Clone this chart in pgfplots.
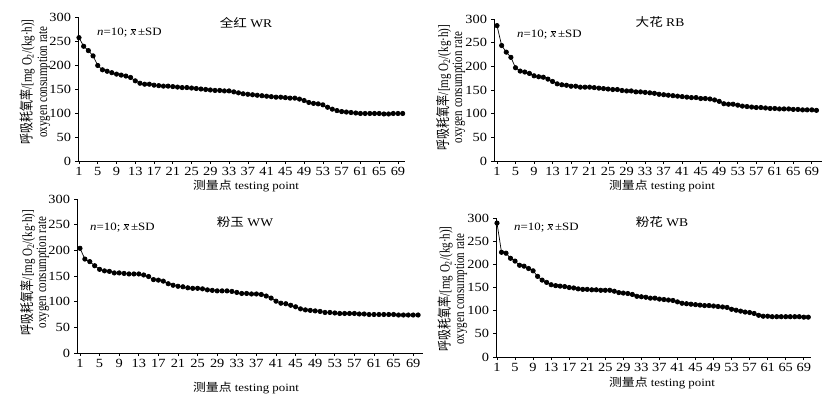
\documentclass[border=0pt]{standalone}
\usepackage{fontspec}
\usepackage{graphicx}
\usepackage{pgfplots}
\pgfplotsset{compat=1.18}
\setmainfont{Liberation Serif}[FakeStretch=1.15]
\newfontfamily\serifplain{Liberation Serif}
\newfontfamily\cjk{Noto Sans CJK SC}[FakeStretch=1.15]
\newfontfamily\cjkplain{Noto Sans CJK SC}
\pgfplotsset{
 panel/.style={
  scale only axis, axis x line=bottom, axis y line=left,
  axis line style={-, line width=0.8pt, black},
  ymin=0, ymax=300, ytick={0,50,...,300}, xtick={1,5,...,69},
  tick align=outside, major tick length=3pt, tick style={black, line width=0.7pt},
  ticklabel style={font=\fontsize{12.5}{13}\selectfont},
  yticklabel style={xshift=-0.5pt},
  /pgf/number format/assume math mode=true,
  anchor=south west, clip=false,
 },
 ser/.style={black, line width=0.7pt, mark=*, mark size=2.2pt, mark options={solid, fill=black}},
}
\newcommand{\nlab}{\fontsize{11.2}{12}\selectfont\textit{n}=10; $\overline{\mbox{\textit{x}}}$\,±SD}
\newcommand{\ylabA}{\scalebox{1}[1.3]{\fontsize{11}{12}\selectfont{\cjkplain 呼吸耗氧率}{\serifplain/[mg O\textsubscript{2}/(kg·h)]}}}
\newcommand{\ylabB}{\scalebox{1}[1.3]{\fontsize{11}{12}\selectfont\serifplain oxygen consumption rate}}
\newcommand{\xlab}{\fontsize{11.2}{12}\selectfont{\cjk 测量点} testing point}
\tikzset{ylabnode/.style={rotate=90, inner sep=0pt}}
\begin{document}
\begin{tikzpicture}
\path[use as bounding box] (0,0) rectangle (830pt,397pt);
% Panel 1 WR
\begin{axis}[panel, at={(78pt,236pt)}, width=327pt, height=144pt, xmin=0.79, xmax=70.5]
\addplot[ser] table[x expr=\coordindex+1, y=y, row sep=\\] {y\\
257\\239\\230\\219\\199\\190\\187\\184\\181\\179\\
177\\174\\167\\162\\160\\160\\158\\157\\156\\156\\
155\\154\\153\\153\\152\\151\\150\\149\\148\\147\\
147\\146\\146\\144\\142\\140\\139\\138\\137\\136\\
135\\134\\133\\133\\132\\131\\131\\129\\126\\122\\
120\\119\\117\\112\\108\\105\\103\\102\\101\\100\\
99\\99\\99\\99\\99\\98\\98\\99\\99\\99\\};
\end{axis}
% Panel 2 RB
\begin{axis}[panel, at={(494pt,236pt)}, width=328pt, height=142pt, xmin=0.35, xmax=71.2]
\addplot[ser] table[x expr=\coordindex+1, y=y, row sep=\\] {y\\
286\\244\\230\\219\\197\\190\\188\\185\\180\\178\\
177\\173\\168\\163\\161\\160\\158\\158\\156\\156\\
156\\155\\154\\153\\152\\151\\151\\149\\148\\148\\
146\\146\\145\\144\\143\\141\\140\\139\\138\\137\\
136\\135\\134\\134\\132\\132\\131\\129\\126\\121\\
120\\120\\118\\116\\115\\114\\113\\113\\112\\111\\
111\\110\\110\\110\\109\\109\\108\\108\\108\\107\\};
\end{axis}
% Panel 3 WW
\begin{axis}[panel, at={(77pt,44pt)}, width=346pt, height=154pt, xmin=0.39, xmax=71.0]
\addplot[ser] table[x expr=\coordindex+1, y=y, row sep=\\] {y\\
204\\183\\178\\170\\163\\160\\159\\156\\156\\155\\
154\\154\\154\\152\\149\\143\\142\\140\\135\\132\\
130\\129\\127\\126\\126\\125\\123\\122\\121\\121\\
121\\120\\118\\116\\116\\115\\115\\114\\111\\107\\
101\\97\\96\\93\\90\\86\\84\\83\\82\\81\\
79\\79\\78\\77\\77\\77\\77\\76\\76\\75\\
75\\75\\75\\75\\75\\74\\74\\74\\74\\74\\};
\end{axis}
% Panel 4 WB
\begin{axis}[panel, at={(496pt,40pt)}, width=315pt, height=139pt, xmin=0.78, xmax=70.6]
\addplot[ser] table[x expr=\coordindex+1, y=y, row sep=\\] {y\\
289\\226\\224\\213\\207\\198\\196\\191\\186\\174\\
166\\161\\156\\154\\153\\152\\150\\149\\147\\146\\
146\\145\\145\\144\\144\\144\\142\\139\\138\\137\\
135\\131\\130\\129\\127\\127\\125\\124\\123\\122\\
119\\116\\115\\114\\113\\112\\111\\111\\110\\109\\
108\\107\\103\\101\\99\\97\\96\\94\\90\\88\\
88\\87\\87\\87\\87\\87\\87\\87\\86\\86\\};
\end{axis}
% titles
\node[font=\fontsize{11.8}{12}\selectfont] at (246pt,374pt) {{\cjk 全红} WR};
\node[font=\fontsize{11.8}{12}\selectfont] at (660pt,375pt) {{\cjk 大花} RB};
\node[font=\fontsize{11.8}{12}\selectfont] at (245pt,175pt) {{\cjk 粉玉} WW};
\node[font=\fontsize{11.8}{12}\selectfont] at (662pt,175pt) {{\cjk 粉花} WB};
% n labels
\node[anchor=west, inner sep=0pt] at (97pt,364pt) {\nlab};
\node[anchor=west, inner sep=0pt] at (517pt,362pt) {\nlab};
\node[anchor=west, inner sep=0pt] at (90pt,169pt) {\nlab};
\node[anchor=west, inner sep=0pt] at (514pt,169pt) {\nlab};
% y labels
\node[ylabnode] at (27pt,315pt) {\ylabA};
\node[ylabnode] at (44pt,315pt) {\ylabB};
\node[ylabnode] at (443.5pt,309.5pt) {\ylabA};
\node[ylabnode] at (459pt,309.5pt) {\ylabB};
\node[ylabnode] at (27.5pt,124.5pt) {\ylabA};
\node[ylabnode] at (43pt,124.5pt) {\ylabB};
\node[ylabnode] at (445pt,108pt) {\ylabA};
\node[ylabnode] at (461pt,108pt) {\ylabB};
% x labels
\node[inner sep=0pt] at (246pt,211pt) {\xlab};
\node[inner sep=0pt] at (662pt,211pt) {\xlab};
\node[inner sep=0pt] at (246pt,9pt) {\xlab};
\node[inner sep=0pt] at (662pt,14pt) {\xlab};
\end{tikzpicture}
\end{document}
